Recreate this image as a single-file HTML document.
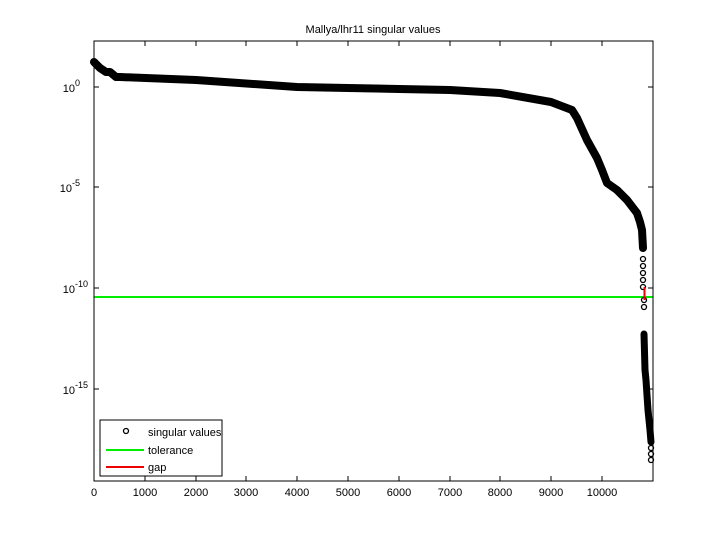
<!DOCTYPE html>
<html><head><style>body{margin:0;background:#fff}</style></head><body>
<svg width="720" height="540" xmlns="http://www.w3.org/2000/svg" font-family="Liberation Sans, sans-serif" font-size="11">
<rect width="720" height="540" fill="#fff"/>
<text x="373" y="33" text-anchor="middle">Mallya/lhr11 singular values</text>
<line x1="94" y1="297" x2="653" y2="297" stroke="#00ee00" stroke-width="2"/>
<polyline fill="none" stroke="#000" stroke-width="8" stroke-linejoin="round" stroke-linecap="round"
points="94,62 100,68 106,72 110,72 116,77 120,77 196,80 297,87 348,88 399,89 450,90 500,93 551,102 572,110 577,118 587,140 597,158 602,170 607,183 617,190 627,200 637,213 640,222 642,230 643,248"/>
<polyline fill="none" stroke="#000" stroke-width="7" stroke-linejoin="round" stroke-linecap="round"
points="644,334 645,370 646,380 648,410 650,430 651,442"/>
<g fill="none" stroke="#000" stroke-width="1.3">
<circle cx="643" cy="259" r="2.5"/><circle cx="643" cy="266" r="2.5"/><circle cx="643" cy="273" r="2.5"/><circle cx="643" cy="280" r="2.5"/><circle cx="643" cy="287" r="2.5"/><circle cx="644" cy="300" r="2.5"/><circle cx="644" cy="307" r="2.5"/>
<circle cx="651" cy="448" r="2.5"/><circle cx="651" cy="454" r="2.5"/><circle cx="651" cy="460" r="2.5"/>
</g>
<line x1="644.5" y1="287" x2="644.5" y2="300" stroke="#ee0000" stroke-width="2"/>
<rect x="94" y="41" width="559" height="440" fill="none" stroke="#000" stroke-width="1"/>
<g stroke="#000">
<line x1="94" y1="87" x2="99" y2="87"/><line x1="94" y1="187" x2="99" y2="187"/><line x1="94" y1="288" x2="99" y2="288"/><line x1="94" y1="389" x2="99" y2="389"/>
<line x1="653" y1="87" x2="648" y2="87"/><line x1="653" y1="187" x2="648" y2="187"/><line x1="653" y1="288" x2="648" y2="288"/><line x1="653" y1="389" x2="648" y2="389"/>
</g>
<g stroke="#000">
<path d="M145,481v-5M196,481v-5M246,481v-5M297,481v-5M348,481v-5M399,481v-5M450,481v-5M500,481v-5M551,481v-5M602,481v-5M145,41v5M196,41v5M246,41v5M297,41v5M348,41v5M399,41v5M450,41v5M500,41v5M551,41v5M602,41v5"/>
</g>
<g text-anchor="middle">
<text x="94" y="496">0</text><text x="145" y="496">1000</text><text x="196" y="496">2000</text><text x="246" y="496">3000</text><text x="297" y="496">4000</text><text x="348" y="496">5000</text><text x="399" y="496">6000</text><text x="450" y="496">7000</text><text x="500" y="496">8000</text><text x="551" y="496">9000</text><text x="602" y="496">10000</text>
</g>
<g text-anchor="end">
<text x="80" y="92">10<tspan dy="-6" font-size="9">0</tspan></text>
<text x="80" y="192">10<tspan dy="-6" font-size="9">-5</tspan></text>
<text x="88" y="293">10<tspan dy="-6" font-size="9">-10</tspan></text>
<text x="88" y="394">10<tspan dy="-6" font-size="9">-15</tspan></text>
</g>
<rect x="100" y="420" width="122" height="56" fill="#fff" stroke="#000"/>
<circle cx="126" cy="431" r="2.5" fill="none" stroke="#000" stroke-width="1.3"/>
<text x="148" y="436">singular values</text>
<line x1="106" y1="450" x2="144" y2="450" stroke="#00ee00" stroke-width="2"/>
<text x="148" y="454">tolerance</text>
<line x1="106" y1="467" x2="144" y2="467" stroke="#ee0000" stroke-width="2"/>
<text x="148" y="471">gap</text>
</svg>
</body></html>
